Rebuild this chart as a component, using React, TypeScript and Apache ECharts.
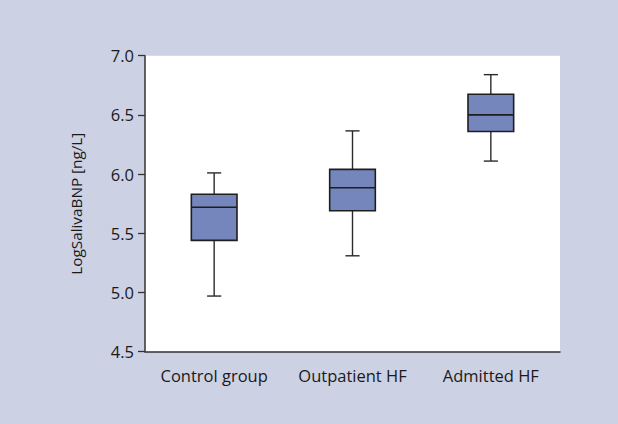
import React, { useEffect, useRef } from "react";
import * as echarts from "echarts";

const categories = ["Control group", "Outpatient HF", "Admitted HF"];
// [min, Q1, median, Q3, max]
const whiskerLow = [4.97, 5.31, 6.11];
const quartile1 = [5.44, 5.69, 6.36];
const medians = [5.72, 5.885, 6.5];
const quartile3 = [5.83, 6.04, 6.675];
const whiskerHigh = [6.01, 6.365, 6.84];
const yTicks = [4.5, 5.0, 5.5, 6.0, 6.5, 7.0];
const yAxisTitle = "LogSalivaBNP [ng/L]";

export default function App() {
  const ref = useRef<HTMLDivElement>(null);
  useEffect(() => {
    if (!ref.current) return;
    const chart = echarts.init(ref.current, null, { renderer: "svg" });
    const data = categories.map((_, i) => [
      i,
      whiskerLow[i],
      quartile1[i],
      medians[i],
      quartile3[i],
      whiskerHigh[i],
    ]);
    const font = "'Open Sans', 'Noto Sans', sans-serif";
    chart.setOption({
      animation: false,
      backgroundColor: "#cdd1e4",
      grid: {
        left: 145,
        right: 58,
        top: 55.7,
        bottom: 72.3,
        show: true,
        backgroundColor: "#ffffff",
        borderWidth: 0,
      },
      xAxis: {
        type: "category",
        data: categories,
        axisLine: { lineStyle: { color: "#333333", width: 1.5 } },
        axisTick: { alignWithLabel: true, interval: 0, length: 7, lineStyle: { color: "#333333", width: 1.3 } },
        axisLabel: { interval: 0, hideOverlap: false, color: "#1a1a1a", fontSize: 16.5, fontFamily: font, margin: 15 },
        splitLine: { show: false },
      },
      yAxis: {
        type: "value",
        min: yTicks[0],
        max: yTicks[yTicks.length - 1],
        interval: 0.5,
        name: yAxisTitle,
        nameLocation: "middle",
        nameGap: 62,
        nameTextStyle: { color: "#1a1a1a", fontSize: 15.3, fontFamily: font },
        axisLine: { show: true, lineStyle: { color: "#333333", width: 1.5 } },
        axisTick: { show: true, length: 7, lineStyle: { color: "#333333", width: 1.3 } },
        axisLabel: {
          color: "#1a1a1a",
          fontSize: 16.5,
          fontFamily: font,
          margin: 11,
          formatter: (v: number) => v.toFixed(1),
        },
        splitLine: { show: false },
      },
      series: [
        {
          type: "custom",
          data,
          encode: { x: 0, y: [1, 2, 3, 4, 5] },
          renderItem: (params: any, api: any) => {
            const i = api.value(0);
            const pLow = api.coord([i, api.value(1)]);
            const pQ1 = api.coord([i, api.value(2)]);
            const pMed = api.coord([i, api.value(3)]);
            const pQ3 = api.coord([i, api.value(4)]);
            const pHigh = api.coord([i, api.value(5)]);
            const band = api.size([1, 0])[0];
            const bw = band * 0.33;
            const cw = bw * 0.31;
            const cx = pMed[0];
            const lineStyle = { stroke: "#2a2a2a", lineWidth: 1.4, fill: null };
            return {
              type: "group",
              children: [
                { type: "line", shape: { x1: cx, y1: pHigh[1], x2: cx, y2: pQ3[1] }, style: lineStyle },
                { type: "line", shape: { x1: cx, y1: pQ1[1], x2: cx, y2: pLow[1] }, style: lineStyle },
                { type: "line", shape: { x1: cx - cw / 2, y1: pHigh[1], x2: cx + cw / 2, y2: pHigh[1] }, style: lineStyle },
                { type: "line", shape: { x1: cx - cw / 2, y1: pLow[1], x2: cx + cw / 2, y2: pLow[1] }, style: lineStyle },
                {
                  type: "rect",
                  shape: { x: cx - bw / 2, y: pQ3[1], width: bw, height: pQ1[1] - pQ3[1] },
                  style: { fill: "#7586bc", stroke: "#1e1e1e", lineWidth: 1.6 },
                },
                { type: "line", shape: { x1: cx - bw / 2, y1: pMed[1], x2: cx + bw / 2, y2: pMed[1] }, style: { stroke: "#1e1e1e", lineWidth: 1.6 } },
              ],
            };
          },
        },
      ],
    });
    return () => chart.dispose();
  }, []);
  return <div ref={ref} style={{ width: 618, height: 424, position: "absolute", left: 0, top: 0 }} />;
}
